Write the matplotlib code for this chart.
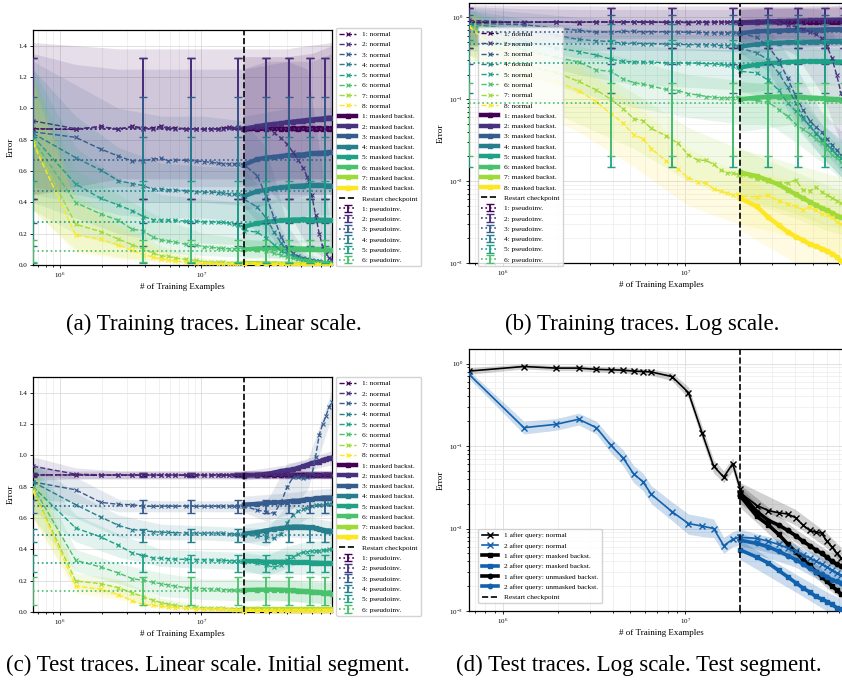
import numpy as np
import matplotlib
matplotlib.use("Agg")
import matplotlib.pyplot as plt

plt.rcParams.update({
    "font.family": "serif",
    "font.serif": ["Liberation Serif", "DejaVu Serif"],
    "mathtext.fontset": "stix",
    "axes.linewidth": 0.9,
    "axes.edgecolor": "black",
})

MIL = 1e6
# ---------------- x grids (millions of training examples) ----------------
x_pre = [0.65, 1.3, 1.95, 2.6, 3.25, 3.9, 4.55, 5.2, 5.85, 6.5, 7.8, 9.1, 10.4, 11.7, 13.0, 14.3, 15.6, 16.9, 18.2, 19.5]
x_post = [20.0, 24.7, 28.6, 32.5, 36.4, 40.3, 44.2, 48.1, 52.0, 55.9, 59.8, 63.7, 67.6, 71.5, 75.4, 79.3, 83.2]
x_band = [0.65, 1.3, 2.6, 5.2, 10.4, 19.5, 28.6, 40.3, 55.9, 83.2]
x_band_post = [20.0, 40.3, 59.8, 83.2]
x_pinv = [0.65, 3.9, 8.45, 18.2, 28.6, 41.6, 58.5, 74.1, 83.2]
pinv_has_bar = [True, True, True, True, True, True, True, True, False]
restart_x = 20.0
x_limits = [0.65, 83.2]

# ---------------- training traces ----------------
train_norm_pre = [
    [0.87, 0.865, 0.885, 0.865, 0.885, 0.875, 0.875, 0.885, 0.875, 0.875, 0.87, 0.87, 0.865, 0.87, 0.87, 0.875, 0.88, 0.875, 0.875, 0.87],
    [0.92, 0.87, 0.88, 0.87, 0.88, 0.87, 0.87, 0.88, 0.875, 0.87, 0.87, 0.87, 0.87, 0.87, 0.865, 0.87, 0.875, 0.875, 0.88, 0.875],
    [0.85, 0.815, 0.74, 0.695, 0.664, 0.666, 0.676, 0.68, 0.666, 0.67, 0.668, 0.664, 0.66, 0.655, 0.65, 0.647, 0.645, 0.645, 0.645, 0.64],
    [0.84, 0.685, 0.606, 0.538, 0.52, 0.506, 0.483, 0.485, 0.48, 0.479, 0.474, 0.468, 0.464, 0.465, 0.462, 0.458, 0.453, 0.453, 0.451, 0.447],
    [0.82, 0.517, 0.425, 0.383, 0.347, 0.309, 0.29, 0.287, 0.287, 0.285, 0.28, 0.279, 0.277, 0.277, 0.272, 0.272, 0.266, 0.262, 0.255, 0.245],
    [0.80, 0.398, 0.326, 0.285, 0.228, 0.219, 0.177, 0.16, 0.153, 0.145, 0.132, 0.128, 0.117, 0.113, 0.108, 0.106, 0.104, 0.104, 0.105, 0.106],
    [0.79, 0.26, 0.213, 0.165, 0.13, 0.1, 0.077, 0.058, 0.055, 0.044, 0.036, 0.029, 0.021, 0.018, 0.018, 0.016, 0.0137, 0.0127, 0.0125, 0.012],
    [0.78, 0.19, 0.165, 0.128, 0.093, 0.067, 0.051, 0.037, 0.033, 0.025, 0.0178, 0.014, 0.011, 0.0098, 0.0094, 0.0081, 0.0075, 0.0072, 0.0068, 0.0069],
]
train_norm_post = [
    [0.87, 0.872, 0.868, 0.87, 0.873, 0.869, 0.871, 0.87, 0.872, 0.868, 0.87, 0.871, 0.869, 0.87, 0.872, 0.87, 0.871],
    [0.87, 0.875, 0.87, 0.845, 0.81, 0.77, 0.72, 0.67, 0.62, 0.56, 0.45, 0.32, 0.2, 0.12, 0.07, 0.045, 0.035],
    [0.64, 0.57, 0.44, 0.3, 0.18, 0.11, 0.075, 0.055, 0.046, 0.04, 0.033, 0.028, 0.024, 0.021, 0.019, 0.017, 0.016],
    [0.42, 0.37, 0.3, 0.21, 0.14, 0.09, 0.06, 0.047, 0.038, 0.032, 0.028, 0.025, 0.021, 0.019, 0.017, 0.016, 0.015],
    [0.22, 0.21, 0.17, 0.13, 0.09, 0.072, 0.058, 0.047, 0.039, 0.033, 0.028, 0.024, 0.021, 0.019, 0.017, 0.015, 0.014],
    [0.1, 0.097, 0.092, 0.075, 0.062, 0.05, 0.043, 0.038, 0.033, 0.029, 0.025, 0.021, 0.019, 0.017, 0.016, 0.015, 0.014],
    [0.012, 0.0105, 0.0099, 0.0096, 0.0095, 0.0103, 0.0078, 0.0076, 0.0084, 0.0074, 0.0068, 0.0063, 0.0058, 0.0054, 0.0051, 0.0049, 0.0047],
    [0.0066, 0.0064, 0.0067, 0.0057, 0.0053, 0.0049, 0.0045, 0.0048, 0.0044, 0.004, 0.0039, 0.0036, 0.0032, 0.003, 0.0029, 0.0028, 0.0027],
]
train_mask_post = [
    [0.865, 0.87, 0.868, 0.872, 0.87, 0.868, 0.872, 0.87, 0.873, 0.87, 0.872, 0.87, 0.873, 0.871, 0.872, 0.87, 0.872],
    [0.87, 0.885, 0.895, 0.9, 0.905, 0.91, 0.915, 0.918, 0.922, 0.925, 0.928, 0.93, 0.932, 0.935, 0.937, 0.94, 0.94],
    [0.64, 0.675, 0.685, 0.69, 0.695, 0.7, 0.7, 0.705, 0.705, 0.71, 0.712, 0.714, 0.715, 0.717, 0.718, 0.72, 0.72],
    [0.44, 0.47, 0.48, 0.49, 0.495, 0.5, 0.503, 0.505, 0.507, 0.508, 0.51, 0.51, 0.51, 0.508, 0.507, 0.506, 0.505],
    [0.245, 0.265, 0.275, 0.28, 0.285, 0.288, 0.29, 0.29, 0.291, 0.29, 0.29, 0.29, 0.289, 0.288, 0.287, 0.286, 0.285],
    [0.1, 0.105, 0.107, 0.108, 0.108, 0.107, 0.106, 0.105, 0.104, 0.103, 0.102, 0.101, 0.1, 0.099, 0.098, 0.097, 0.096],
    [0.0128, 0.0115, 0.0102, 0.0091, 0.0079, 0.0069, 0.0062, 0.0056, 0.0051, 0.0047, 0.0044, 0.0041, 0.0038, 0.0036, 0.0034, 0.0032, 0.0031],
    [0.0062, 0.0049, 0.0036, 0.0029, 0.0024, 0.0021, 0.0019, 0.0017, 0.0016, 0.0015, 0.0014, 0.0013, 0.0012, 0.00105, 0.00098, 0.00092, 0.00088],
]
train_band_lo = [
    [0.45, 0.5, 0.55, 0.55, 0.55, 0.55, 0.55, 0.55, 0.55, 0.55],
    [0.45, 0.48, 0.5, 0.5, 0.5, 0.5, 0.5, 0.35, 0.12, 0.012],
    [0.5, 0.45, 0.4, 0.4, 0.4, 0.38, 0.22, 0.06, 0.025, 0.009],
    [0.45, 0.4, 0.32, 0.3, 0.3, 0.28, 0.18, 0.05, 0.02, 0.008],
    [0.4, 0.3, 0.2, 0.15, 0.14, 0.13, 0.1, 0.045, 0.02, 0.008],
    [0.35, 0.2, 0.12, 0.08, 0.06, 0.05, 0.05, 0.03, 0.017, 0.008],
    [0.35, 0.1, 0.05, 0.025, 0.01, 0.006, 0.005, 0.004, 0.003, 0.0025],
    [0.35, 0.08, 0.04, 0.015, 0.005, 0.003, 0.0025, 0.002, 0.0015, 0.0012],
]
train_band_hi = [
    [1.42, 1.4, 1.38, 1.38, 1.38, 1.38, 1.38, 1.38, 1.4, 1.42],
    [1.35, 1.28, 1.25, 1.25, 1.25, 1.25, 1.3, 1.3, 1.25, 0.2],
    [1.3, 1.15, 1.0, 0.95, 0.95, 0.92, 0.75, 0.25, 0.07, 0.03],
    [1.25, 0.95, 0.75, 0.65, 0.63, 0.62, 0.45, 0.15, 0.05, 0.025],
    [1.25, 0.75, 0.55, 0.45, 0.42, 0.4, 0.3, 0.11, 0.05, 0.022],
    [1.2, 0.6, 0.45, 0.3, 0.2, 0.17, 0.15, 0.08, 0.04, 0.022],
    [1.2, 0.45, 0.3, 0.12, 0.045, 0.025, 0.02, 0.016, 0.013, 0.01],
    [1.15, 0.4, 0.25, 0.09, 0.025, 0.013, 0.012, 0.01, 0.008, 0.006],
]
train_mband_lo = [
    [0.45, 0.45, 0.45, 0.45], [0.5, 0.55, 0.55, 0.55], [0.35, 0.42, 0.45, 0.45], [0.25, 0.3, 0.32, 0.32],
    [0.12, 0.14, 0.15, 0.15], [0.04, 0.05, 0.05, 0.05], [0.006, 0.0035, 0.0025, 0.002], [0.0025, 0.001, 0.0007, 0.0005],
]
train_mband_hi = [
    [1.33, 1.33, 1.35, 1.4], [1.25, 1.3, 1.3, 1.35], [0.95, 1.0, 1.0, 1.0], [0.65, 0.7, 0.7, 0.7],
    [0.4, 0.43, 0.43, 0.43], [0.16, 0.16, 0.16, 0.15], [0.025, 0.013, 0.009, 0.007], [0.012, 0.005, 0.003, 0.0025],
]
train_pinv_mean = [0.87, 0.87, 0.67, 0.47, 0.275, 0.09]
train_pinv_err = [0.45, 0.45, 0.40, 0.35, 0.26, 0.07]

# ---------------- test traces (initial segment) ----------------
test_norm_pre = [
    [0.875, 0.875, 0.872, 0.875, 0.873, 0.875, 0.874, 0.873, 0.875, 0.874, 0.873, 0.875, 0.874, 0.873, 0.875, 0.874, 0.873, 0.874, 0.875, 0.874],
    [0.93, 0.88, 0.876, 0.875, 0.874, 0.875, 0.874, 0.875, 0.874, 0.875, 0.874, 0.875, 0.874, 0.875, 0.874, 0.875, 0.874, 0.875, 0.874, 0.875],
    [0.83, 0.78, 0.70, 0.687, 0.685, 0.675, 0.675, 0.675, 0.677, 0.675, 0.676, 0.675, 0.675, 0.676, 0.675, 0.676, 0.675, 0.676, 0.675, 0.677],
    [0.83, 0.685, 0.606, 0.553, 0.526, 0.52, 0.512, 0.51, 0.508, 0.506, 0.505, 0.504, 0.503, 0.505, 0.503, 0.502, 0.5, 0.498, 0.495, 0.49],
    [0.80, 0.536, 0.479, 0.426, 0.377, 0.362, 0.345, 0.343, 0.34, 0.337, 0.336, 0.335, 0.333, 0.332, 0.33, 0.33, 0.328, 0.326, 0.325, 0.323],
    [0.80, 0.33, 0.287, 0.249, 0.213, 0.202, 0.19, 0.18, 0.172, 0.165, 0.155, 0.152, 0.149, 0.147, 0.145, 0.143, 0.142, 0.141, 0.14, 0.138],
    [0.78, 0.198, 0.181, 0.155, 0.123, 0.096, 0.075, 0.06, 0.049, 0.042, 0.034, 0.03, 0.026, 0.025, 0.024, 0.023, 0.022, 0.022, 0.021, 0.021],
    [0.77, 0.166, 0.145, 0.111, 0.07, 0.049, 0.042, 0.036, 0.032, 0.028, 0.024, 0.021, 0.019, 0.018, 0.017, 0.016, 0.016, 0.015, 0.015, 0.015],
]
test_norm_post = [
    [0.874, 0.875, 0.873, 0.874, 0.875, 0.874, 0.873, 0.875, 0.874, 0.873, 0.875, 0.874, 0.873, 0.875, 0.874, 0.873, 0.874],
    [0.875, 0.874, 0.875, 0.876, 0.874, 0.875, 0.874, 0.875, 0.876, 0.874, 0.875, 0.874, 0.875, 0.876, 0.874, 0.875, 0.874],
    [0.677, 0.65, 0.64, 0.63, 0.7, 0.8, 0.86, 0.86, 0.855, 0.86, 0.87, 0.99, 1.13, 1.2, 1.25, 1.31, 1.34],
    [0.49, 0.485, 0.48, 0.47, 0.5, 0.57, 0.62, 0.645, 0.655, 0.665, 0.675, 0.68, 0.685, 0.685, 0.69, 0.69, 0.69],
    [0.32, 0.31, 0.3, 0.285, 0.3, 0.33, 0.35, 0.37, 0.38, 0.385, 0.39, 0.39, 0.39, 0.395, 0.395, 0.4, 0.4],
    [0.138, 0.14, 0.141, 0.14, 0.138, 0.137, 0.135, 0.134, 0.132, 0.13, 0.129, 0.128, 0.127, 0.126, 0.125, 0.124, 0.123],
    [0.021, 0.02, 0.02, 0.019, 0.019, 0.019, 0.018, 0.018, 0.018, 0.018, 0.017, 0.017, 0.017, 0.017, 0.017, 0.016, 0.016],
    [0.015, 0.015, 0.015, 0.014, 0.014, 0.014, 0.014, 0.014, 0.013, 0.013, 0.013, 0.013, 0.013, 0.013, 0.013, 0.013, 0.013],
]
test_mask_post = [
    [0.875, 0.874, 0.876, 0.875, 0.874, 0.876, 0.875, 0.874, 0.876, 0.875, 0.874, 0.876, 0.875, 0.874, 0.876, 0.875, 0.875],
    [0.87, 0.875, 0.88, 0.89, 0.9, 0.905, 0.91, 0.92, 0.93, 0.94, 0.95, 0.955, 0.96, 0.97, 0.975, 0.98, 0.985],
    [0.685, 0.69, 0.695, 0.70, 0.70, 0.705, 0.71, 0.71, 0.715, 0.72, 0.72, 0.725, 0.725, 0.73, 0.73, 0.73, 0.73],
    [0.50, 0.51, 0.52, 0.53, 0.535, 0.54, 0.545, 0.545, 0.545, 0.54, 0.54, 0.535, 0.53, 0.525, 0.52, 0.52, 0.515],
    [0.325, 0.325, 0.32, 0.32, 0.32, 0.32, 0.318, 0.318, 0.318, 0.316, 0.315, 0.315, 0.314, 0.313, 0.312, 0.312, 0.31],
    [0.14, 0.142, 0.143, 0.143, 0.142, 0.14, 0.138, 0.136, 0.134, 0.132, 0.13, 0.128, 0.126, 0.124, 0.122, 0.12, 0.118],
    [0.019, 0.019, 0.018, 0.018, 0.018, 0.018, 0.018, 0.018, 0.018, 0.018, 0.018, 0.018, 0.018, 0.018, 0.018, 0.018, 0.018],
    [0.015, 0.015, 0.015, 0.015, 0.015, 0.015, 0.015, 0.015, 0.015, 0.015, 0.015, 0.015, 0.015, 0.015, 0.015, 0.015, 0.015],
]
test_band_lo = [
    [0.84, 0.85, 0.85, 0.85, 0.85, 0.85, 0.85, 0.85, 0.85, 0.85],
    [0.87, 0.85, 0.85, 0.85, 0.85, 0.85, 0.85, 0.85, 0.85, 0.85],
    [0.72, 0.7, 0.64, 0.64, 0.64, 0.64, 0.58, 0.62, 0.78, 1.25],
    [0.7, 0.6, 0.48, 0.46, 0.46, 0.45, 0.42, 0.52, 0.6, 0.62],
    [0.65, 0.45, 0.35, 0.29, 0.28, 0.27, 0.23, 0.28, 0.33, 0.34],
    [0.6, 0.26, 0.18, 0.1, 0.08, 0.07, 0.08, 0.07, 0.06, 0.05],
    [0.6, 0.15, 0.1, 0.03, 0.01, 0.008, 0.008, 0.008, 0.008, 0.008],
    [0.6, 0.12, 0.08, 0.02, 0.008, 0.006, 0.006, 0.006, 0.006, 0.006],
]
test_band_hi = [
    [0.92, 0.9, 0.9, 0.9, 0.9, 0.9, 0.9, 0.9, 0.9, 0.9],
    [0.99, 0.92, 0.9, 0.9, 0.9, 0.9, 0.9, 0.9, 0.9, 0.9],
    [0.95, 0.86, 0.72, 0.71, 0.71, 0.71, 0.7, 0.95, 0.97, 1.42],
    [0.95, 0.76, 0.62, 0.56, 0.55, 0.54, 0.53, 0.68, 0.73, 0.76],
    [0.93, 0.62, 0.5, 0.4, 0.39, 0.38, 0.36, 0.42, 0.45, 0.46],
    [0.95, 0.4, 0.31, 0.25, 0.21, 0.21, 0.2, 0.2, 0.19, 0.19],
    [0.95, 0.25, 0.21, 0.09, 0.04, 0.03, 0.03, 0.03, 0.03, 0.03],
    [0.93, 0.21, 0.17, 0.06, 0.03, 0.025, 0.025, 0.025, 0.025, 0.025],
]
test_mband_lo = [
    [0.85, 0.85, 0.85, 0.85], [0.84, 0.88, 0.91, 0.94], [0.64, 0.66, 0.67, 0.68], [0.44, 0.48, 0.47, 0.46],
    [0.25, 0.24, 0.24, 0.23], [0.07, 0.07, 0.06, 0.05], [0.005, 0.005, 0.005, 0.005], [0.005, 0.005, 0.005, 0.005],
]
test_mband_hi = [
    [0.9, 0.9, 0.9, 0.9], [0.9, 0.94, 0.99, 1.03], [0.74, 0.76, 0.78, 0.79], [0.56, 0.6, 0.6, 0.58],
    [0.39, 0.39, 0.39, 0.39], [0.21, 0.21, 0.2, 0.19], [0.03, 0.03, 0.03, 0.03], [0.025, 0.025, 0.025, 0.025],
]
test_pinv_mean = [0.875, 0.875, 0.675, 0.49, 0.31, 0.134]
test_pinv_err = [0.01, 0.012, 0.04, 0.04, 0.055, 0.09]

# ---------------- test segment (panel d) ----------------
d_x_pre = [0.65, 1.3, 1.95, 2.6, 3.25, 3.9, 4.55, 5.2, 5.85, 6.5, 8.45, 10.4, 12.35, 14.3, 16.25, 18.2, 20.0]
d_q1_norm_pre = [0.81, 0.92, 0.88, 0.88, 0.85, 0.84, 0.83, 0.81, 0.80, 0.79, 0.695, 0.445, 0.145, 0.057, 0.042, 0.061, 0.030]
d_q1_lo_pre = [0.74, 0.86, 0.82, 0.82, 0.79, 0.78, 0.77, 0.75, 0.74, 0.72, 0.62, 0.38, 0.12, 0.047, 0.036, 0.05, 0.025]
d_q1_hi_pre = [0.89, 0.99, 0.95, 0.95, 0.92, 0.91, 0.9, 0.88, 0.87, 0.86, 0.77, 0.52, 0.175, 0.068, 0.05, 0.072, 0.036]
d_q2_norm_pre = [0.74, 0.167, 0.183, 0.211, 0.167, 0.102, 0.072, 0.046, 0.037, 0.026, 0.016, 0.0115, 0.0107, 0.010, 0.0062, 0.0074, 0.0079]
d_q2_lo_pre = [0.66, 0.14, 0.155, 0.18, 0.14, 0.083, 0.058, 0.036, 0.029, 0.02, 0.0125, 0.0085, 0.008, 0.0078, 0.005, 0.006, 0.0063]
d_q2_hi_pre = [0.82, 0.2, 0.215, 0.25, 0.2, 0.125, 0.09, 0.058, 0.047, 0.033, 0.021, 0.015, 0.014, 0.013, 0.0078, 0.0092, 0.0098]
d_q1_norm_post = [0.027, 0.019, 0.0165, 0.0155, 0.015, 0.0135, 0.011, 0.0095, 0.009, 0.0088, 0.007, 0.006, 0.005, 0.0044, 0.004, 0.0037, 0.0034]
d_q1_mask_post = [0.025, 0.014, 0.011, 0.0085, 0.0065, 0.0052, 0.0042, 0.0036, 0.003, 0.0026, 0.0023, 0.002, 0.0018, 0.0016, 0.0015, 0.0014, 0.0013]
d_q1_unmask_post = [0.027, 0.016, 0.0125, 0.011, 0.0095, 0.0082, 0.007, 0.0062, 0.0055, 0.005, 0.0045, 0.004, 0.0037, 0.0035, 0.0033, 0.0031, 0.003]
d_q2_norm_post = [0.0078, 0.0076, 0.007, 0.0064, 0.0058, 0.0053, 0.0048, 0.0044, 0.004, 0.0037, 0.0034, 0.0031, 0.0029, 0.0027, 0.0026, 0.0025, 0.0024]
d_q2_mask_post = [0.0055, 0.0045, 0.0038, 0.0031, 0.0026, 0.0022, 0.0019, 0.0017, 0.0015, 0.0014, 0.0013, 0.0012, 0.0011, 0.00105, 0.001, 0.00095, 0.0009]
d_q2_unmask_post = [0.0072, 0.0066, 0.006, 0.0053, 0.0047, 0.0042, 0.0037, 0.0033, 0.003, 0.0028, 0.0026, 0.0024, 0.0023, 0.0022, 0.0021, 0.002, 0.0019]
d_post_lo = [
    [0.022, 0.011, 0.0058, 0.0028], [0.018, 0.0043, 0.0019, 0.0011], [0.02, 0.0068, 0.0037, 0.0025],
    [0.0062, 0.0043, 0.0027, 0.002], [0.0042, 0.0017, 0.001, 0.0007], [0.0057, 0.0034, 0.0021, 0.0015],
]
d_post_hi = [
    [0.036, 0.017, 0.0088, 0.0042], [0.032, 0.0064, 0.0028, 0.0016], [0.034, 0.0098, 0.0055, 0.0037],
    [0.0098, 0.0065, 0.0042, 0.003], [0.0072, 0.0028, 0.0017, 0.0012], [0.0088, 0.0051, 0.0032, 0.0024],
]

series_ids = ["1", "2", "3", "4", "5", "6", "7", "8"]
captions = ["(a) Training traces. Linear scale.", "(b) Training traces. Log scale.",
            "(c) Test traces. Linear scale. Initial segment.", "(d) Test traces. Log scale. Test segment."]

COLORS = plt.cm.viridis(np.linspace(0, 1, 8))
BLUE = "#1161ad"

W, H = 842, 685
fig = plt.figure(figsize=(W / 100, H / 100), dpi=100)


def px_axes(left, top, right, bottom):
    return fig.add_axes([left / W, 1 - bottom / H, (right - left) / W, (bottom - top) / H])


def style_axes(ax, logy):
    ax.set_xscale("log")
    if logy:
        ax.set_yscale("log")
        ax.set_ylim(1e-3, 1.5)
    else:
        ax.set_ylim(0, 1.5)
    ax.set_xlim(x_limits[0] * MIL, x_limits[1] * MIL)
    ax.grid(True, which="major", color="#dcdcdc", lw=0.6, zorder=0)
    ax.grid(True, which="minor", color="#ececec", lw=0.5, zorder=0)
    ax.set_axisbelow(True)
    ax.tick_params(which="both", direction="out", labelsize=5, pad=1.5, width=0.6)
    ax.tick_params(which="major", length=2.5)
    ax.tick_params(which="minor", length=1.5)
    ax.set_xlabel("# of Training Examples", fontsize=6.5, labelpad=2)
    ax.set_ylabel("Error", fontsize=6.5, labelpad=3)
    for s in ax.spines.values():
        s.set_linewidth(0.9)


def legend_kw():
    return dict(fontsize=5.3, labelspacing=0.56, handlelength=2.3, handletextpad=0.8,
                borderpad=0.45, framealpha=0.85, edgecolor="0.8", fancybox=True)


def draw_traces(ax, npre, npost, mpost, blo, bhi, mblo, mbhi, pmean, perr, logy):
    xb = [v * MIL for v in x_band]
    xbp = [v * MIL for v in x_band_post]
    xn = [v * MIL for v in x_pre + x_post]
    xm = [v * MIL for v in x_post]
    for i in range(8):
        ax.fill_between(xb, blo[i], bhi[i], color=COLORS[i], alpha=0.13, lw=0, zorder=1)
        ax.fill_between(xbp, mblo[i], mbhi[i], color=COLORS[i], alpha=0.13, lw=0, zorder=1)
    h_norm, h_mask, h_pinv = [], [], []
    for i in range(8):
        ln, = ax.plot(xm, mpost[i], "-s", color=COLORS[i], lw=3.2, ms=3.2, zorder=3,
                      label=f"{series_ids[i]}: masked backst.")
        h_mask.append(ln)
    for i in range(8):
        ln, = ax.plot(xn, npre[i] + npost[i], "--x", color=COLORS[i], lw=1.0, ms=3.3, mew=0.8,
                      zorder=4, label=f"{series_ids[i]}: normal")
        h_norm.append(ln)
    h_rs = ax.axvline(restart_x * MIL, color="black", ls="--", lw=1.2, zorder=5, label="Restart checkpoint")
    xp = [v * MIL for v in x_pinv]
    for i in range(6):
        eb = ax.errorbar(xp, [pmean[i]] * len(xp), yerr=[perr[i]] * len(xp), errorevery=np.array(pinv_has_bar),
                         ls=":", lw=1.2, elinewidth=1.3, capsize=3, capthick=1.0, color=COLORS[i],
                         zorder=6, label=f"{series_ids[i]}: pseudoinv.")
        h_pinv.append(eb)
    style_axes(ax, logy)
    return h_norm + h_mask + [h_rs] + h_pinv


# (a)
ax_a = px_axes(33, 30, 332, 265)
hs = draw_traces(ax_a, train_norm_pre, train_norm_post, train_mask_post, train_band_lo, train_band_hi,
                 train_mband_lo, train_mband_hi, train_pinv_mean, train_pinv_err, False)
ax_a.legend(handles=hs, loc="upper left", bbox_to_anchor=(1.014, 1.01), borderaxespad=0, **legend_kw())

# (b)
ax_b = px_axes(469, 3, 853, 263)
hs = draw_traces(ax_b, train_norm_pre, train_norm_post, train_mask_post, train_band_lo, train_band_hi,
                 train_mband_lo, train_mband_hi, train_pinv_mean, train_pinv_err, True)
ax_b.legend(handles=hs, loc="upper left", bbox_to_anchor=(0.023, 0.907), borderaxespad=0, **legend_kw())

# (c)
ax_c = px_axes(33, 377, 332, 612)
hs = draw_traces(ax_c, test_norm_pre, test_norm_post, test_mask_post, test_band_lo, test_band_hi,
                 test_mband_lo, test_mband_hi, test_pinv_mean, test_pinv_err, False)
ax_c.legend(handles=hs, loc="upper left", bbox_to_anchor=(1.014, 1.0), borderaxespad=0, **legend_kw())

# (d)
ax_d = px_axes(469, 349, 853, 611)
xd = [v * MIL for v in d_x_pre + x_post]
xdp = [v * MIL for v in x_post]
xbp = [v * MIL for v in x_band_post]
xdpre = [v * MIL for v in d_x_pre]
ax_d.fill_between(xdpre, d_q1_lo_pre, d_q1_hi_pre, color="black", alpha=0.18, lw=0, zorder=1)
ax_d.fill_between(xdpre, d_q2_lo_pre, d_q2_hi_pre, color=BLUE, alpha=0.22, lw=0, zorder=1)
post_cols = ["black", "black", "black", BLUE, BLUE, BLUE]
for i in range(6):
    ax_d.fill_between(xbp, d_post_lo[i], d_post_hi[i], color=post_cols[i],
                      alpha=0.18 if i < 3 else 0.22, lw=0, zorder=1)
h1, = ax_d.plot(xd, d_q1_norm_pre + d_q1_norm_post, "-x", color="black", lw=1.2, ms=4, mew=1.0,
                zorder=4, label="1 after query: normal")
h2, = ax_d.plot(xd, d_q2_norm_pre + d_q2_norm_post, "-x", color=BLUE, lw=1.2, ms=4, mew=1.0,
                zorder=4, label="2 after query: normal")
h3, = ax_d.plot(xdp, d_q1_mask_post, "-s", color="black", lw=2.6, ms=3.2, zorder=3,
                label="1 after query: masked backst.")
h4, = ax_d.plot(xdp, d_q2_mask_post, "-s", color=BLUE, lw=2.6, ms=3.2, zorder=3,
                label="2 after query: masked backst.")
h5, = ax_d.plot(xdp, d_q1_unmask_post, "-o", color="black", lw=2.6, ms=3.2, zorder=3,
                label="1 after query: unmasked backst.")
h6, = ax_d.plot(xdp, d_q2_unmask_post, "-o", color=BLUE, lw=2.6, ms=3.2, zorder=3,
                label="2 after query: unmasked backst.")
h7 = ax_d.axvline(restart_x * MIL, color="black", ls="--", lw=1.2, zorder=5, label="Restart checkpoint")
style_axes(ax_d, True)
ax_d.legend(handles=[h1, h2, h3, h4, h5, h6, h7], loc="lower left", bbox_to_anchor=(0.024, 0.029),
            borderaxespad=0, **legend_kw())

# captions
fig.text(214 / W, 1 - 324 / H, captions[0], ha="center", va="center", fontsize=16.5)
fig.text(642 / W, 1 - 324 / H, captions[1], ha="center", va="center", fontsize=16.5)
fig.text(208 / W, 1 - 665 / H, captions[2], ha="center", va="center", fontsize=16.5)
fig.text(639 / W, 1 - 665 / H, captions[3], ha="center", va="center", fontsize=16.5)

fig.savefig("out.png", dpi=100)
